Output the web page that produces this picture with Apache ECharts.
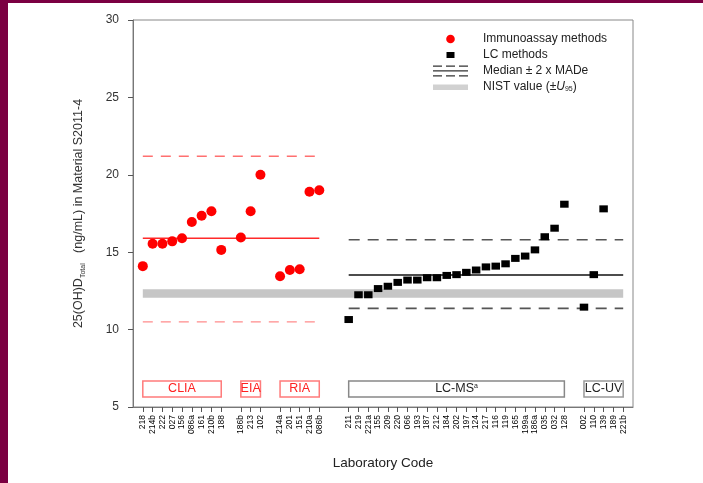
<!DOCTYPE html>
<html><head><meta charset="utf-8">
<script src="https://cdn.jsdelivr.net/npm/echarts@6/dist/echarts.min.js"></script>
<style>
html,body{margin:0;padding:0;width:703px;height:483px;background:#7b0042;overflow:hidden}
#chart{position:absolute;left:8px;top:3px;width:695px;height:480px;background:#fff}
</style></head><body><div id="chart"></div>
<script>
// ---- data ----
const cliaCodes = ['218','214b','222','027','156','086a','161','210b','188'];
const cliaValues = [14.1, 15.55, 15.55, 15.7, 15.9, 16.95, 17.35, 17.65, 15.15];
const eiaCodes = ['186b','213','102'];
const eiaValues = [15.95, 17.65, 20.0];
const riaCodes = ['214a','201','151','210a','086b'];
const riaValues = [13.45, 13.85, 13.9, 18.9, 19.0];
const lcmsCodes = ['211','219','221a','155','209','220','066','193','187','212','184','202','197','124','217','116','119','165','199a','186a','035','032','128'];
const lcmsValues = [10.65, 12.25, 12.25, 12.65, 12.8, 13.05, 13.2, 13.2, 13.35, 13.35, 13.5, 13.55, 13.7, 13.85, 14.05, 14.1, 14.25, 14.6, 14.75, 15.15, 16.0, 16.55, 18.1];
const lcuvCodes = ['002','110','139','189','221b'];
const lcuvValues = [11.45, 13.55, 17.8, null, null];
const immunoMedian = 15.9, immunoUpper = 21.2, immunoLower = 10.5;
const lcMedian = 13.53, lcUpper = 15.8, lcLower = 11.37;
const nistValue = 12.33, nistU95 = 0.27;
const yTicks = [5, 10, 15, 20, 25, 30];

// ---- build categories ----
const groupDefs = [
  {label:'CLIA', codes:cliaCodes, values:cliaValues, kind:'immuno', gap:0},
  {label:'EIA', codes:eiaCodes, values:eiaValues, kind:'immuno', gap:1},
  {label:'RIA', codes:riaCodes, values:riaValues, kind:'immuno', gap:1},
  {label:'LC-MS{sup|a}', codes:lcmsCodes, values:lcmsValues, kind:'lc', gap:2},
  {label:'LC-UV', codes:lcuvCodes, values:lcuvValues, kind:'lc', gap:1}
];
const categories = [''];
const immunoData = [], lcData = [], ranges = [];
groupDefs.forEach(g => {
  for (let k = 0; k < g.gap; k++) categories.push('');
  const start = categories.length;
  g.codes.forEach((c, i) => {
    const idx = categories.length;
    categories.push(c);
    if (g.values[i] != null) (g.kind === 'immuno' ? immunoData : lcData).push([idx, g.values[i]]);
  });
  ranges.push([start, categories.length - 1]);
});
categories.push('');
const immunoRange = [ranges[0][0], ranges[2][1]];
const lcRange = [ranges[3][0], ranges[4][1]];

const boxLo = 5.65, boxHi = 6.68;
const boxStyles = [
  {border:'#ff7b7b', text:'#ff2020'},
  {border:'#ff7b7b', text:'#ff2020'},
  {border:'#ff7b7b', text:'#ff2020'},
  {border:'#888888', text:'#222222'},
  {border:'#999999', text:'#222222'}
];
const boxData = groupDefs.map((g, i) => [
  {name:g.label, xAxis:ranges[i][0], yAxis:boxLo,
   itemStyle:{color:'#ffffff', borderColor:boxStyles[i].border, borderWidth:1.5},
   label:{color:boxStyles[i].text}},
  {xAxis:ranges[i][1], yAxis:boxHi}
]);

function hline(name, range, v, color, type, width) {
  return {type:'line', name:name, silent:true, symbol:'none', z:3,
    data:[[range[0], v], [range[1], v]],
    lineStyle:{color:color, type:type, width:width}};
}
const MED = 'Median ± 2 x MADe';
const NIST = 'NIST value (±U95)';

const chart = echarts.init(document.getElementById('chart'));
chart.setOption({
  animation:false,
  textStyle:{fontFamily:'Liberation Sans, Arial, sans-serif'},
  grid:{left:125, right:70, top:17, bottom:76, show:true, borderColor:'#888', borderWidth:1},
  legend:{
    left:415, top:30, orient:'vertical', itemWidth:55, itemHeight:11, itemGap:4, padding:0,
    selectedMode:false,
    textStyle:{fontSize:12, color:'#222', lineHeight:11,
      rich:{i:{fontStyle:'italic', fontSize:12, color:'#222', lineHeight:11},
            s:{fontSize:7, color:'#222', lineHeight:11, verticalAlign:'bottom'}}},
    formatter: n => n === NIST ? 'NIST value (±{i|U}{s|95})' : n,
    data:[
      {name:'Immunoassay methods', icon:'path://M0,0M55,11M31.8,5.5A4.3,4.3,0,1,1,23.2,5.5A4.3,4.3,0,1,1,31.8,5.5Z', itemStyle:{color:'#ff0000', borderWidth:0}},
      {name:'LC methods', icon:'path://M0,0M55,11M23.5,2.5h8v6h-8z', itemStyle:{color:'#000', borderWidth:0}},
      {name:MED, icon:'path://M0,0M55,11M10,0h9v1.3h-9zM23,0h9v1.3h-9zM36,0h9v1.3h-9zM10,4.8h35v1.3h-35zM10,9.7h9v1.3h-9zM23,9.7h9v1.3h-9zM36,9.7h9v1.3h-9z', itemStyle:{color:'#333', borderWidth:0}},
      {name:NIST, icon:'path://M0,0M55,11M10,3h35v5.5h-35z', itemStyle:{color:'#c6c6c6', borderWidth:0}}
    ]
  },
  xAxis:{
    type:'category', data:categories, boundaryGap:false,
    name:'Laboratory Code', nameLocation:'middle', nameGap:49,
    nameTextStyle:{fontSize:13.5, color:'#222'},
    axisLine:{show:true, lineStyle:{color:'#777'}},
    axisTick:{show:true, length:5, interval:(i, v) => v !== '', lineStyle:{color:'#555'}},
    axisLabel:{interval:0, rotate:90, fontSize:8.5, color:'#000', margin:8},
    splitLine:{show:false}
  },
  yAxis:{
    type:'value', min:yTicks[0], max:yTicks[yTicks.length-1], interval:5,
    name:'{a|25(OH)D}{b|Total}{a|   (ng/mL) in Material S2011-4}',
    nameLocation:'middle', nameGap:46, nameRotate:90,
    nameTextStyle:{rich:{a:{fontSize:12.5, color:'#333', lineHeight:16},
                         b:{fontSize:7, color:'#333', lineHeight:16, verticalAlign:'bottom'}}},
    axisLine:{show:true, lineStyle:{color:'#777'}},
    axisTick:{show:true, length:5, lineStyle:{color:'#555'}},
    axisLabel:{fontSize:12, color:'#333', margin:14},
    splitLine:{show:false}
  },
  series:[
    {type:'scatter', name:'boxes', data:[], silent:true,
     markArea:{silent:true, label:{show:true, position:'inside', fontSize:12.5,
       rich:{sup:{fontSize:7, verticalAlign:'top', color:'#222', lineHeight:12}}},
       data:boxData}},
    {type:'scatter', name:NIST, data:[], silent:true,
     markArea:{silent:true, itemStyle:{color:'#c6c6c6'},
       data:[[{xAxis:immunoRange[0], yAxis:nistValue - nistU95}, {xAxis:lcRange[1], yAxis:nistValue + nistU95}]]}},
    hline(MED, immunoRange, immunoMedian, '#ff2a2a', 'solid', 1.6),
    hline(MED, immunoRange, immunoUpper, '#ff7070', [10, 8], 1.6),
    hline(MED, immunoRange, immunoLower, '#ff8c8c', [10, 8], 1.3),
    hline(MED, lcRange, lcMedian, '#111', 'solid', 1.6),
    hline(MED, lcRange, lcUpper, '#555', [11, 8], 1.6),
    hline(MED, lcRange, lcLower, '#555', [11, 8], 1.6),
    {type:'scatter', name:'Immunoassay methods', data:immunoData, symbol:'circle', symbolSize:10,
     itemStyle:{color:'#ff0000', opacity:1}, z:5},
    {type:'scatter', name:'LC methods', data:lcData, symbol:'rect', symbolSize:[8.5, 7],
     itemStyle:{color:'#000', opacity:1}, z:5}
  ]
});
</script></body></html>
